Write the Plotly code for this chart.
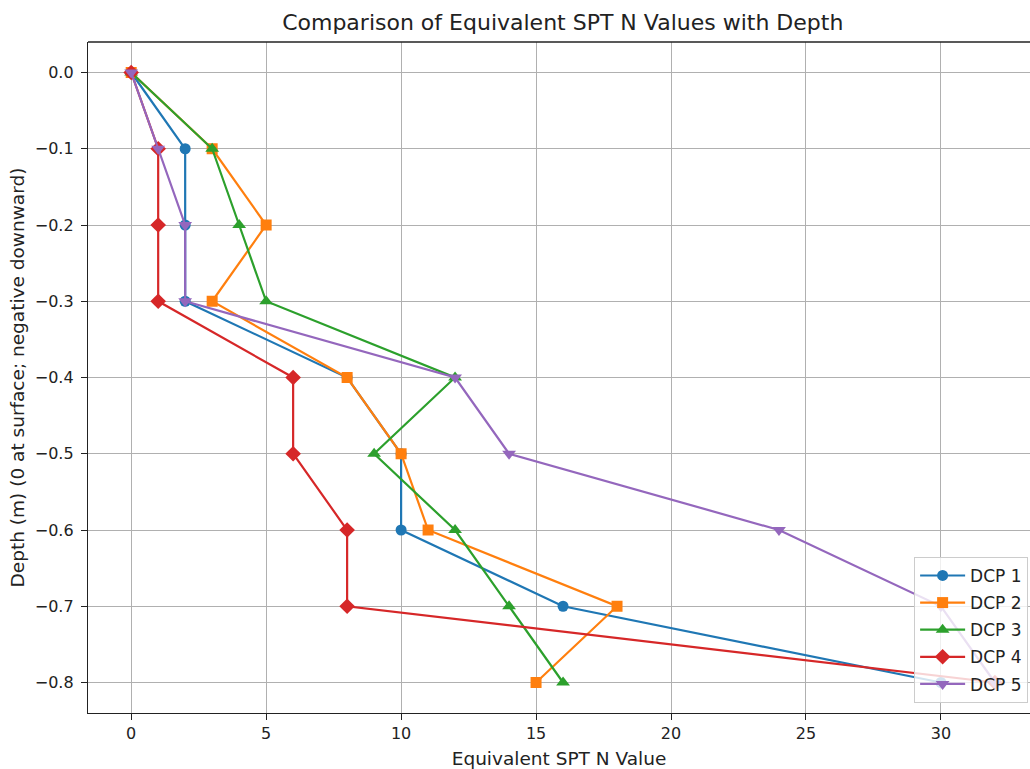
import plotly.graph_objects as go

# Depth below surface (m), negative downward
depth = [0.0, -0.1, -0.2, -0.3, -0.4, -0.5, -0.6, -0.7, -0.8]

# Equivalent SPT N value at each depth for the five DCP tests
dcp1 = [0, 2, 2, 2, 8, 10, 10, 16, 30]
dcp2 = [0, 3, 5, 3, 8, 10, 11, 18, 15]
dcp3 = [0, 3, 4, 5, 12, 9, 12, 14, 16]
dcp4 = [0, 1, 1, 1, 6, 6, 8, 8, 32]
dcp5 = [0, 1, 2, 2, 12, 14, 24, 30, 32]

names = ["DCP 1", "DCP 2", "DCP 3", "DCP 4", "DCP 5"]
colors = ["#1f77b4", "#ff7f0e", "#2ca02c", "#d62728", "#9467bd"]
symbols = ["circle", "square", "triangle-up", "diamond", "triangle-down"]
sizes = [11, 11, 12, 12, 12]

y_ticks = [0.0, -0.1, -0.2, -0.3, -0.4, -0.5, -0.6, -0.7, -0.8]
x_ticks = [0, 5, 10, 15, 20, 25, 30]

fig = go.Figure()
for name, vals, col, sym, sz in zip(names, [dcp1, dcp2, dcp3, dcp4, dcp5],
                                    colors, symbols, sizes):
    fig.add_trace(go.Scatter(
        x=vals, y=depth, name=name, mode="lines+markers",
        legendgroup=name,
        line=dict(color=col, width=2.2),
        marker=dict(symbol=sym, size=sz, color=col, line=dict(width=0)),
    ))

font = "DejaVu Sans, Arial, sans-serif"
fig.update_layout(
    width=1030, height=769,
    margin=dict(l=88, r=0, t=42, b=56),
    paper_bgcolor="white", plot_bgcolor="white",
    font=dict(family=font, size=16, color="#222"),
    title=dict(text="Comparison of Equivalent SPT N Values with Depth",
               x=0.504, xref="paper", xanchor="center",
               y=1 - 22 / 769, yref="container", yanchor="middle",
               font=dict(size=22, color="#222")),
    xaxis=dict(
        range=[-1.6, 33.3], tickmode="array", tickvals=x_ticks,
        showgrid=True, gridcolor="#b0b0b0", gridwidth=1,
        zeroline=False, showline=True, linecolor="#222", linewidth=1.3,
        ticks="outside", ticklen=6, tickcolor="#222",
        tickfont=dict(size=16),
        title=dict(text="Equivalent SPT N Value", standoff=9,
                   font=dict(size=18.5)),
    ),
    yaxis=dict(
        range=[-0.84, 0.04], tickmode="array", tickvals=y_ticks,
        tickformat=".1f",
        showgrid=True, gridcolor="#b0b0b0", gridwidth=1,
        zeroline=False, showline=True, linecolor="#222", linewidth=1.3,
        ticks="outside", ticklen=6, tickcolor="#222",
        tickfont=dict(size=16), ticklabelstandoff=4,
        title=dict(text="Depth (m) (0 at surface; negative downward)",
                   standoff=5, font=dict(size=18.5)),
    ),
    legend=dict(
        x=0.998, y=0.015, xanchor="right", yanchor="bottom",
        bgcolor="rgba(255,255,255,0.8)", bordercolor="#cccccc",
        borderwidth=1, font=dict(size=17, color="#222"),
        tracegroupgap=2, itemwidth=45,
    ),
    showlegend=True,
)

# top frame line of the axes box
fig.add_shape(type="line", xref="paper", yref="paper",
              x0=0, x1=1, y0=1, y1=1,
              line=dict(color="#222", width=1.3))

fig.write_html("out.html")
